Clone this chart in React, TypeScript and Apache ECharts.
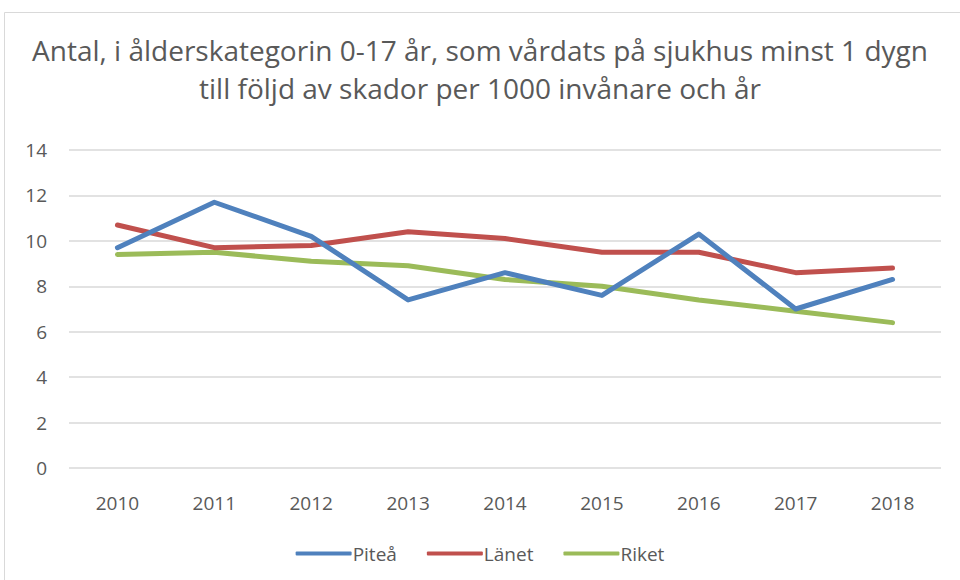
import React, { useEffect, useRef } from "react";
import * as echarts from "echarts";

const years = ["2010", "2011", "2012", "2013", "2014", "2015", "2016", "2017", "2018"];
const pitea = [9.7, 11.7, 10.2, 7.4, 8.6, 7.6, 10.3, 7.0, 8.3];
const lanet = [10.7, 9.7, 9.8, 10.4, 10.1, 9.5, 9.5, 8.6, 8.8];
const riket = [9.4, 9.5, 9.1, 8.9, 8.3, 8.0, 7.4, 6.9, 6.4];
const seriesNames = ["Piteå", "Länet", "Riket"];
const colors = ["#4F81BD", "#C0504D", "#9BBB59"];
const titleText = "Antal, i ålderskategorin 0-17 år, som vårdats på sjukhus minst 1 dygn\ntill följd av skador per 1000 invånare och år";

export default function App() {
  const ref = useRef<HTMLDivElement>(null);
  useEffect(() => {
    if (!ref.current) return;
    const chart = echarts.init(ref.current, undefined, { renderer: "svg" });
    const font = "Open Sans, Noto Sans, sans-serif";
    const data = [pitea, lanet, riket];
    chart.setOption({
      animation: false,
      backgroundColor: "#ffffff",
      textStyle: { fontFamily: font },
      graphic: [
        {
          type: "rect",
          shape: { x: 4.5, y: 12.5, width: 1000, height: 700 },
          style: { fill: "none", stroke: "#D9D9D9", lineWidth: 1 },
          silent: true,
        },
      ],
      title: {
        text: titleText,
        left: "center",
        top: 26,
        padding: [5, 0, 5, 18],
        textStyle: {
          fontFamily: font,
          fontSize: 28,
          fontWeight: "normal",
          color: "#595959",
          lineHeight: 38,
        },
      },
      legend: {
        bottom: 12,
        left: "center",
        padding: [5, 0, 5, 12],
        itemWidth: 56,
        itemHeight: 4,
        itemGap: 30,
        icon: "roundRect",
        textStyle: { fontFamily: font, fontSize: 19, color: "#595959", padding: [0, 0, 0, -4] },
        data: seriesNames,
      },
      grid: { left: 69, right: 19, top: 150, bottom: 112, containLabel: false },
      xAxis: {
        type: "category",
        data: years,
        boundaryGap: true,
        axisLine: { show: false },
        axisTick: { show: false },
        axisLabel: { fontFamily: font, fontSize: 19, color: "#595959", margin: 25 },
      },
      yAxis: {
        type: "value",
        min: 0,
        max: 14,
        interval: 2,
        axisLine: { show: false },
        axisTick: { show: false },
        splitLine: { lineStyle: { color: "#D9D9D9", width: 1.5 } },
        axisLabel: { fontFamily: font, fontSize: 19, color: "#595959", margin: 22 },
      },
      series: seriesNames.map((name, i) => ({
        name,
        type: "line",
        data: data[i],
        symbol: "none",
        color: colors[i],
        lineStyle: { width: 5, color: colors[i], cap: "round", join: "round" },
        z: 3 - i,
      })),
    });
    return () => chart.dispose();
  }, []);
  return (
    <div
      ref={ref}
      style={{ position: "absolute", left: 0, top: 0, width: 960, height: 580 }}
    />
  );
}
